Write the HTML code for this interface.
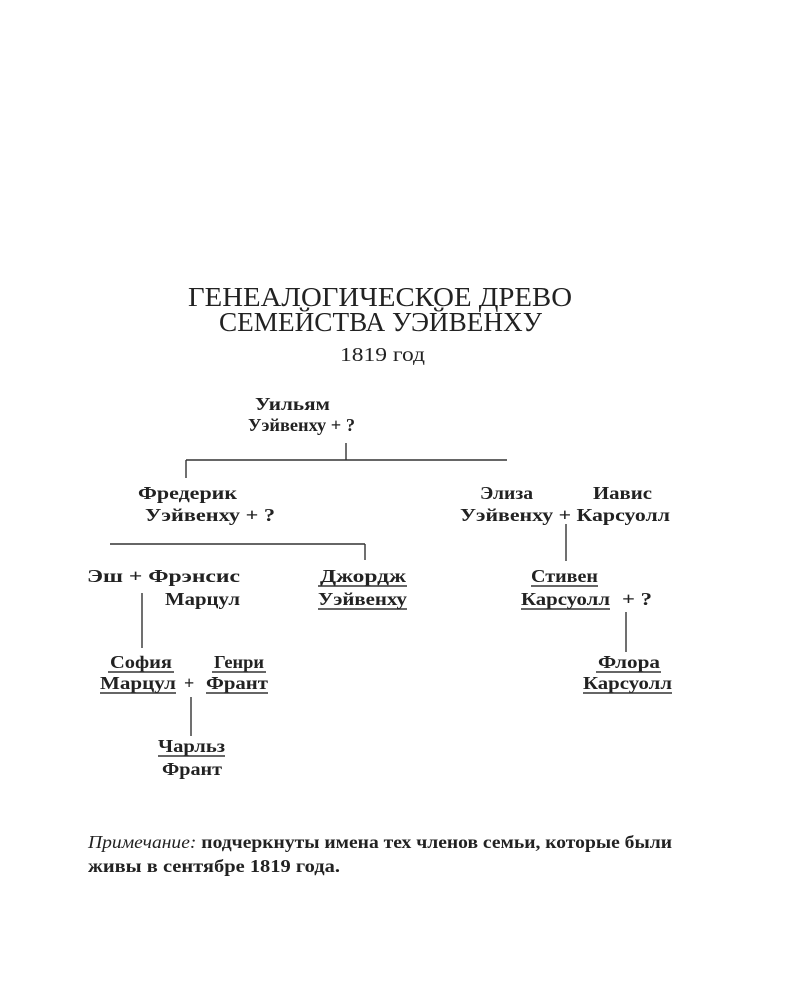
<!DOCTYPE html>
<html><head><meta charset="utf-8"><style>
html,body{margin:0;padding:0;background:#fff;}
svg{display:block;}
.t{font-family:"Liberation Serif","Noto Serif CJK SC",serif;fill:#222;}
.n{font-family:"Liberation Serif","Noto Serif CJK SC",serif;font-size:18px;font-weight:bold;fill:#222;}
line{stroke:#333;stroke-width:1.4;}
</style></head><body>
<svg width="800" height="1000" viewBox="0 0 800 1000">
<text class="t" x="188" y="306" font-size="27" textLength="384" lengthAdjust="spacingAndGlyphs">ГЕНЕАЛОГИЧЕСКОЕ ДРЕВО</text>
<text class="t" x="219" y="331" font-size="27" textLength="323" lengthAdjust="spacingAndGlyphs">СЕМЕЙСТВА УЭЙВЕНХУ</text>
<text class="t" x="340" y="361" font-size="20" textLength="85" lengthAdjust="spacingAndGlyphs">1819 год</text>

<text class="n" x="255" y="410" textLength="75" lengthAdjust="spacingAndGlyphs">Уильям</text>
<text class="n" x="248" y="431" textLength="107" lengthAdjust="spacingAndGlyphs">Уэйвенху + ?</text>
<line x1="346" y1="443" x2="346" y2="460"/>
<line x1="186" y1="460" x2="507" y2="460"/>
<line x1="186" y1="460" x2="186" y2="478"/>

<text class="n" x="138" y="499" textLength="99" lengthAdjust="spacingAndGlyphs">Фредерик</text>
<text class="n" x="145" y="521" textLength="130" lengthAdjust="spacingAndGlyphs">Уэйвенху  +  ?</text>
<line x1="110" y1="544" x2="365" y2="544"/>
<line x1="365" y1="544" x2="365" y2="560"/>

<text class="n" x="87" y="582" textLength="153" lengthAdjust="spacingAndGlyphs">Эш  +  Фрэнсис</text>
<text class="n" x="165" y="605" textLength="75" lengthAdjust="spacingAndGlyphs">Марцул</text>
<text class="n" x="320" y="582" textLength="86" lengthAdjust="spacingAndGlyphs">Джордж</text>
<line x1="318" y1="586" x2="407" y2="586"/>
<text class="n" x="318" y="605" textLength="89" lengthAdjust="spacingAndGlyphs">Уэйвенху</text>
<line x1="318" y1="609" x2="407" y2="609"/>
<line x1="142" y1="593" x2="142" y2="648"/>

<text class="n" x="110" y="668" textLength="62" lengthAdjust="spacingAndGlyphs">София</text>
<line x1="108" y1="672" x2="174" y2="672"/>
<text class="n" x="100" y="689" textLength="76" lengthAdjust="spacingAndGlyphs">Марцул</text>
<line x1="100" y1="693" x2="176" y2="693"/>
<text class="n" x="184" y="689">+</text>
<text class="n" x="214" y="668" textLength="50" lengthAdjust="spacingAndGlyphs">Генри</text>
<line x1="212" y1="672" x2="266" y2="672"/>
<text class="n" x="206" y="689" textLength="62" lengthAdjust="spacingAndGlyphs">Франт</text>
<line x1="206" y1="693" x2="268" y2="693"/>
<line x1="191" y1="697" x2="191" y2="736"/>

<text class="n" x="158" y="752" textLength="67" lengthAdjust="spacingAndGlyphs">Чарльз</text>
<line x1="158" y1="756" x2="225" y2="756"/>
<text class="n" x="162" y="775" textLength="60" lengthAdjust="spacingAndGlyphs">Франт</text>

<text class="n" x="480" y="499" textLength="53" lengthAdjust="spacingAndGlyphs">Элиза</text>
<text class="n" x="593" y="499" textLength="59" lengthAdjust="spacingAndGlyphs">Иавис</text>
<text class="n" x="460" y="521" textLength="210" lengthAdjust="spacingAndGlyphs">Уэйвенху  +  Карсуолл</text>
<line x1="566" y1="524" x2="566" y2="561"/>

<text class="n" x="531" y="582" textLength="67" lengthAdjust="spacingAndGlyphs">Стивен</text>
<line x1="531" y1="586" x2="598" y2="586"/>
<text class="n" x="521" y="605" textLength="89" lengthAdjust="spacingAndGlyphs">Карсуолл</text>
<line x1="521" y1="609" x2="610" y2="609"/>
<text class="n" x="622" y="605" textLength="30" lengthAdjust="spacingAndGlyphs">+  ?</text>
<line x1="626" y1="612" x2="626" y2="652"/>

<text class="n" x="598" y="668" textLength="62" lengthAdjust="spacingAndGlyphs">Флора</text>
<line x1="596" y1="672" x2="661" y2="672"/>
<text class="n" x="583" y="689" textLength="89" lengthAdjust="spacingAndGlyphs">Карсуолл</text>
<line x1="583" y1="693" x2="672" y2="693"/>

<text class="t" x="88" y="848" font-size="17.5" textLength="584" lengthAdjust="spacingAndGlyphs"><tspan font-style="italic">Примечание:</tspan><tspan font-weight="bold"> подчеркнуты имена тех членов семьи, которые были</tspan></text>
<text class="t" x="88" y="872" font-size="17.5" font-weight="bold" textLength="252" lengthAdjust="spacingAndGlyphs">живы в сентябре 1819 года.</text>
</svg>
</body></html>
